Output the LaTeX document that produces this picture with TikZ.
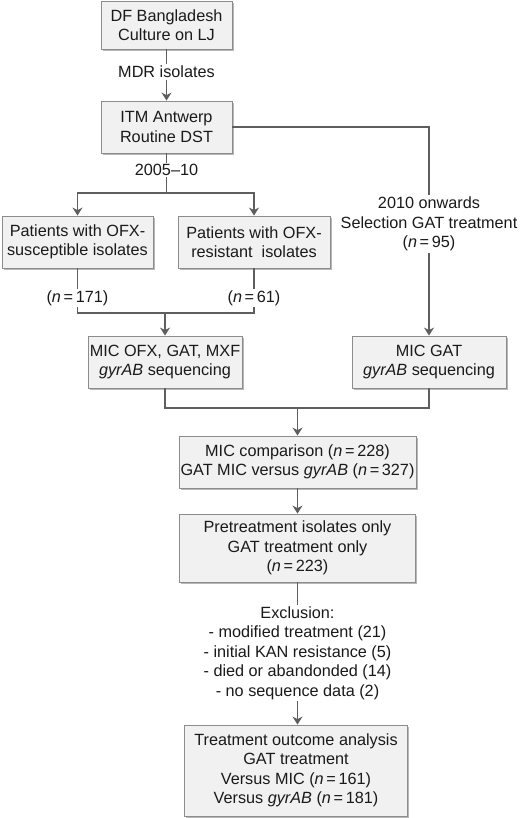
\documentclass[tikz,border=0pt]{standalone}
\usepackage{fontspec}
\setmainfont{Liberation Sans}
\usetikzlibrary{arrows.meta,shadows}
\definecolor{boxfill}{HTML}{F1F1F1}
\definecolor{boxline}{HTML}{8C8C8C}
\definecolor{linec}{HTML}{5E5E5E}
\definecolor{txt}{HTML}{1A1A1A}
\begin{document}
\begin{tikzpicture}[x=1bp,y=-1bp,
  font=\fontsize{16.3}{19.6}\selectfont, text=txt,
  box/.style={draw=boxline, line width=0.9bp, fill=boxfill, align=center, inner sep=0pt,
    drop shadow={shadow xshift=1.6bp, shadow yshift=-1.6bp, fill=black!28, opacity=1}},
  lbl/.style={fill=white, align=center, inner sep=1.5bp},
  conn/.style={draw=linec, line width=1.4bp},
  arr/.style={conn, -{Stealth[length=8bp,width=10bp]}}]
\useasboundingbox (0,0) rectangle (520,818);

\node[box, minimum width=131bp, minimum height=48bp] (df) at (166.5,25) {DF Bangladesh\\Culture on LJ};
\node[lbl] (mdr) at (166.5,72) {MDR isolates};
\node[box, minimum width=131bp, minimum height=52bp] (itm) at (166.5,127) {ITM Antwerp\\Routine DST};
\node[lbl] (y05) at (166.5,170) {2005--10};
\coordinate (j1) at (166.5,193);
\node[box, minimum width=151bp, minimum height=52bp] (sus) at (77.5,242) {Patients with OFX-\\susceptible isolates};
\node[box, minimum width=152bp, minimum height=52bp] (res) at (254,242) {Patients with OFX-\\resistant\ \ isolates};
\node[lbl] (n171) at (77.5,298) {(\textit{n}\,=\,171)};
\node[lbl] (n61) at (254,298) {(\textit{n}\,=\,61)};
\coordinate (j2) at (165,313);
\node[box, minimum width=154bp, minimum height=52bp] (mico) at (165,362) {MIC OFX, GAT, MXF\\\textit{gyrAB} sequencing};
\node[lbl] (n95) at (429,224) {2010 onwards\\Selection GAT treatment\\(\textit{n}\,=\,95)};
\node[box, minimum width=154bp, minimum height=52bp] (micg) at (429,362) {MIC GAT\\\textit{gyrAB} sequencing};
\coordinate (j3) at (297.5,408);
\node[box, minimum width=237bp, minimum height=52bp] (cmp) at (297.5,462) {MIC comparison (\textit{n}\,=\,228)\\GAT MIC versus \textit{gyrAB} (\textit{n}\,=\,327)};
\node[box, minimum width=236bp, minimum height=68bp] (pre) at (297.5,548) {Pretreatment isolates only\\GAT treatment only\\(\textit{n}\,=\,223)};
\node[lbl] (exc) at (297.5,653) {Exclusion:\\- modified treatment (21)\\- initial KAN resistance (5)\\- died or abandonded (14)\\- no sequence data (2)};
\node[box, minimum width=223bp, minimum height=91bp] (out) at (296,770.5) {Treatment outcome analysis\\GAT treatment\\Versus MIC (\textit{n}\,=\,161)\\Versus \textit{gyrAB} (\textit{n}\,=\,181)};

\draw[conn] (df.south) -- (mdr.north);
\draw[arr] (mdr.south) -- (itm.north);
\draw[conn] (itm.south) -- (y05.north);
\draw[conn] (y05.south) -- (j1);
\draw[arr] (j1) -| (sus.north);
\draw[arr] (j1) -| (res.north);
\draw[conn] (itm.east) -| (n95.north);
\draw[arr] (n95.south) -- (micg.north);
\draw[conn] (sus.south) -- (n171.north);
\draw[conn] (res.south) -- (n61.north);
\draw[conn] (n171.south) |- (j2) -| (n61.south);
\draw[arr] (j2) -- (mico.north);
\draw[conn] (mico.south) |- (j3) -| (micg.south);
\draw[arr] (j3) -- (j3 |- cmp.north);
\draw[arr] (cmp.south) -- (pre.north);
\draw[conn] (pre.south) -- (exc.north);
\draw[arr] (exc.south) -- (exc.south |- out.north);
\end{tikzpicture}
\end{document}
